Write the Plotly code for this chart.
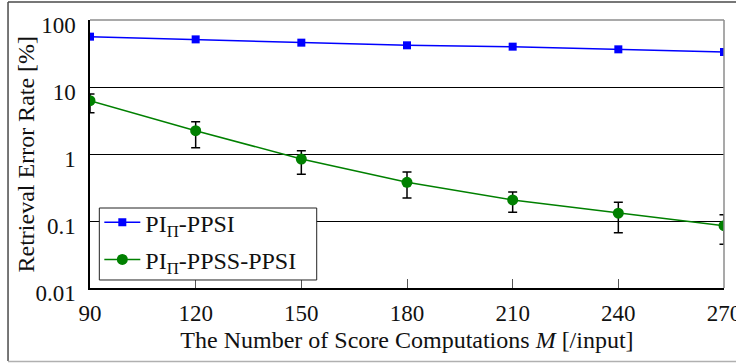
import plotly.graph_objects as go

# Score computations per input
m_values = [90, 120, 150, 180, 210, 240, 270]

# Retrieval error rate [%] for each scheme
ppsi_err = [56.4, 51.4, 45.9, 41.9, 40.0, 36.5, 33.3]
ppss_ppsi_err = [6.25, 2.23, 0.84, 0.378, 0.206, 0.131, 0.085]
ppss_ppsi_plus = [1.62, 0.80, 0.28, 0.16, 0.065, 0.059, 0.039]
ppss_ppsi_minus = [2.11, 0.99, 0.34, 0.158, 0.071, 0.064, 0.040]

y_ticks = [0.01, 0.1, 1, 10, 100]
y_tick_text = ["0.01", "0.1", "1", "10", "100"]
x_ticks = [90, 120, 150, 180, 210, 240, 270]

SERIF = "Liberation Serif, Times New Roman, serif"

fig = go.Figure()

fig.add_trace(go.Scatter(
    x=m_values, y=ppsi_err, mode="lines+markers",
    name="PI<sub>Π</sub>-PPSI", legendgroup="a",
    line=dict(color="#0000ff", width=1.5),
    marker=dict(symbol="square", size=8, color="#0000ff"),
))

fig.add_trace(go.Scatter(
    x=m_values, y=ppss_ppsi_err, mode="lines+markers",
    name="PI<sub>Π</sub>-PPSS-PPSI", legendgroup="b",
    line=dict(color="#008000", width=1.5),
    marker=dict(symbol="circle", size=11, color="#008000"),
    error_y=dict(type="data", symmetric=False,
                 array=ppss_ppsi_plus, arrayminus=ppss_ppsi_minus,
                 color="#000000", thickness=1.5, width=4.5),
))

# Outer frame lines around the figure and the grey top/right plot border
frame = [
    dict(x0=-0.1293, x1=1.05, y0=1.067, y1=1.067, color="#4a4a4a"),
    dict(x0=-0.1293, x1=-0.1293, y0=-0.272, y1=1.067, color="#4a4a4a"),
    dict(x0=-0.1293, x1=1.05, y0=-0.274, y1=-0.274, color="#b0b0b0"),
    dict(x0=0, x1=1, y0=1, y1=1, color="#8c8c8c"),
    dict(x0=1, x1=1, y0=0, y1=1, color="#8c8c8c"),
]
shapes = [
    dict(type="line", xref="paper", yref="paper",
         x0=f["x0"], x1=f["x1"], y0=f["y0"], y1=f["y1"],
         line=dict(color=f["color"], width=1.5), layer="above")
    for f in frame
]
# Legend frame (white box that hides the grid line behind it)
shapes.append(dict(
    type="rect", xref="paper", yref="paper",
    x0=0.0147, x1=0.3576, y0=0.0299, y1=0.2985,
    fillcolor="white", line=dict(color="#222222", width=1), layer="above",
))

fig.update_layout(
    width=736, height=363,
    margin=dict(l=90, r=12, t=20, b=75),
    paper_bgcolor="white", plot_bgcolor="white",
    font=dict(family=SERIF, size=23, color="#111111"),
    shapes=shapes,
    showlegend=True,
    legend=dict(
        x=0.0147, y=0.328, xanchor="left", yanchor="top",
        bgcolor="rgba(0,0,0,0)", borderwidth=0,
        font=dict(family=SERIF, size=24, color="#111111"),
        itemwidth=36, tracegroupgap=3,
    ),
    xaxis=dict(
        range=[90, 270], tickvals=x_ticks,
        showgrid=False, zeroline=False,
        showline=True, linecolor="#000000", linewidth=1.5,
        ticks="inside", ticklen=9, tickcolor="#555555", tickwidth=1,
        tickfont=dict(size=23), ticklabelstandoff=4,
        ticklabeloverflow="allow", automargin=False,
        title=dict(text="The Number of Score Computations <i>M</i> [/input]",
                   font=dict(size=24), standoff=6),
    ),
    yaxis=dict(
        type="log", range=[-2, 2],
        tickvals=y_ticks, ticktext=y_tick_text,
        showgrid=True, gridcolor="#000000", gridwidth=1.2,
        zeroline=False,
        showline=True, linecolor="#000000", linewidth=1.5,
        ticks="", ticklabelstandoff=8, ticklabelshift=5,
        ticklabeloverflow="allow", automargin=False,
        tickfont=dict(size=23),
    ),
    annotations=[dict(
        text="Retrieval Error Rate [%]", textangle=-90,
        xref="paper", yref="paper", x=-0.1002, y=0.5,
        xanchor="center", yanchor="middle", showarrow=False,
        font=dict(family=SERIF, size=24, color="#111111"),
    )],
)

fig.write_html("out.html")
